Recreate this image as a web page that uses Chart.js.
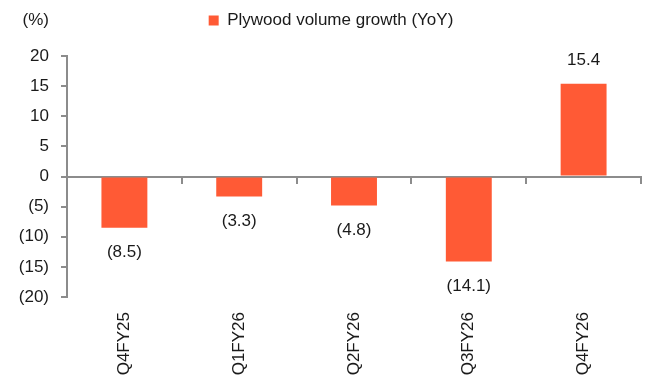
<!DOCTYPE html>
<html>
<head>
<meta charset="utf-8">
<script src="https://cdn.jsdelivr.net/npm/chart.js@4.4.1/dist/chart.umd.min.js"></script>
<style>
  html, body { margin: 0; padding: 0; background: #fff; }
  #wrap { width: 662px; height: 381px; position: relative; }
</style>
</head>
<body>
<div id="wrap"><canvas id="grafico"></canvas></div>
<script>
// datos del grafico
const trimestres = ['Q4FY25', 'Q1FY26', 'Q2FY26', 'Q3FY26', 'Q4FY26'];
const crecimiento = [-8.5, -3.3, -4.8, -14.1, 15.4];
const nombreSerie = 'Plywood volume growth (YoY)';
const unidad = '(%)';

const fuente = "'Liberation Sans', Arial, sans-serif";
const gris = '#8c8c8c';
const naranja = '#FF5A35';
const texto = '#1a1a1a';

function formato(v) {
    return v < 0 ? '(' + Math.abs(v).toFixed(1) + ')' : v.toFixed(1);
}

// espacio extra debajo de la leyenda
const espacioLeyenda = {
    id: 'espacioLeyenda',
    beforeInit(chart) {
        const fitOriginal = chart.legend.fit;
        chart.legend.fit = function () {
            fitOriginal.bind(chart.legend)();
            this.height += 17;
        };
    }
};

// etiquetas de valor sobre / bajo cada barra
const etiquetasBarras = {
    id: 'etiquetasBarras',
    afterDatasetsDraw(chart) {
        const ctx = chart.ctx;
        const meta = chart.getDatasetMeta(0);
        ctx.save();
        ctx.font = '17px ' + fuente;
        ctx.fillStyle = texto;
        ctx.textAlign = 'center';
        ctx.textBaseline = 'middle';
        meta.data.forEach((bar, i) => {
            const v = crecimiento[i];
            const y = v >= 0 ? bar.y - 23 : bar.y + 25;
            ctx.fillText(formato(v), bar.x, y);
        });
        // unidad arriba a la izquierda
        const ys = chart.scales.y;
        ctx.textAlign = 'right';
        ctx.fillText(unidad, ys.right - 18, 20);
        ctx.restore();
    }
};

const ctx = document.getElementById('grafico').getContext('2d');

new Chart(ctx, {
    type: 'bar',
    data: {
        labels: trimestres,
        datasets: [{
            label: nombreSerie,
            data: crecimiento,
            backgroundColor: naranja,
            borderWidth: 0,
            categoryPercentage: 1,
            barPercentage: 0.4,
        }],
    },
    options: {
        responsive: true,
        maintainAspectRatio: false,
        animation: false,
        layout: { padding: { top: 2, right: 0, bottom: 0, left: 0 } },
        plugins: {
            legend: {
                labels: {
                    boxWidth: 10,
                    boxHeight: 10,
                    color: texto,
                    font: { family: fuente, size: 17 },
                    padding: 10,
                },
            },
            tooltip: { enabled: false },
        },
        scales: {
            x: {
                position: 'bottom',
                offset: true,
                afterFit(scale) { scale.height = 84; },
                grid: { display: false, drawTicks: false },
                border: { display: false },
                ticks: {
                    minRotation: 90,
                    maxRotation: 90,
                    padding: 15,
                    color: texto,
                    font: { family: fuente, size: 17 },
                },
            },
            x2: {
                type: 'category',
                labels: trimestres,
                position: { y: 0 },
                offset: true,
                grid: { offset: true, drawOnChartArea: false, tickLength: 6, color: gris, lineWidth: 2 },
                border: { color: gris, width: 2 },
                ticks: { display: false },
            },
            y: {
                min: -20,
                max: 20,
                afterFit(scale) { scale.width = 67; },
                grid: { drawOnChartArea: false, tickLength: 6, color: gris, lineWidth: 2 },
                border: { color: gris, width: 2 },
                ticks: {
                    stepSize: 5,
                    padding: 12,
                    color: texto,
                    font: { family: fuente, size: 17 },
                    callback: (v) => v < 0 ? '(' + Math.abs(v) + ')' : String(v),
                },
            },
            // margen derecho vacio
            margen: {
                type: 'linear',
                position: 'right',
                afterFit(scale) { scale.width = 21; },
                grid: { display: false },
                border: { display: false },
                ticks: { display: false },
            },
        },
    },
    plugins: [espacioLeyenda, etiquetasBarras],
});
</script>
</body>
</html>
